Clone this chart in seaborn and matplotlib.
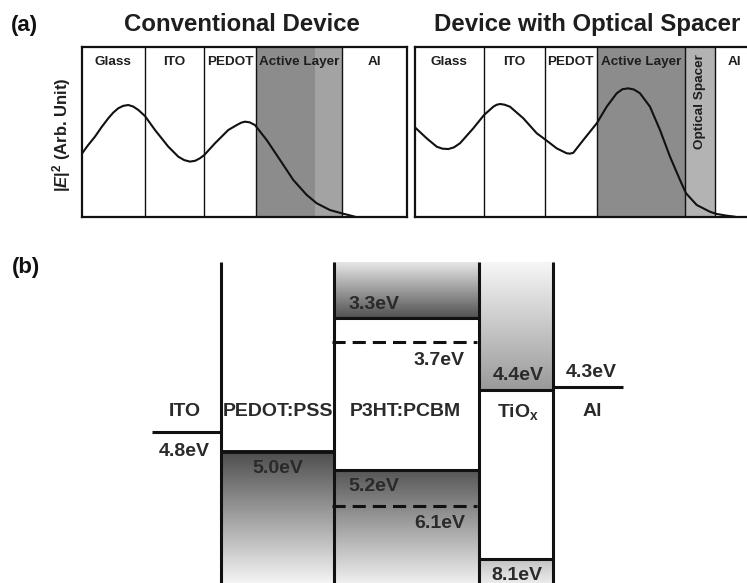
import numpy as np
import matplotlib
matplotlib.use("Agg")
import matplotlib.pyplot as plt
import seaborn as sns

# ---------------- panel (a): optical field in the two device stacks ----------------
# layer boundaries along the device (arbitrary position units)
conv_layers = ["Glass", "ITO", "PEDOT", "Active Layer", "Al"]
conv_edges = [0.0, 63.3, 122.6, 174.0, 260.6, 325.0]
conv_active_rear = 233.3          # start of the lighter rear part of the active layer

spacer_layers = ["Glass", "ITO", "PEDOT", "Active Layer", "Optical Spacer", "Al"]
spacer_edges = [0.0, 69.5, 130.5, 182.2, 270.5, 300.5, 338.5]

# |E|^2 profiles (arbitrary units)
conv_pos = [0.0, 6.0, 13.3, 20.0, 26.6, 31.5, 36.6, 41.5, 46.6, 51.5, 56.6, 63.3,
            73.3, 86.6, 96.6, 102.5, 108.3, 113.5, 118.3, 122.6, 133.3, 146.6,
            155.0, 159.5, 163.3, 168.0, 173.3, 185.0, 198.3, 211.6, 225.0, 235.0,
            248.3, 260.0, 273.3]
conv_field = [0.369, 0.418, 0.471, 0.528, 0.579, 0.612, 0.638, 0.652, 0.657, 0.648,
              0.628, 0.592, 0.510, 0.412, 0.353, 0.333, 0.324, 0.329, 0.344, 0.363,
              0.432, 0.510, 0.539, 0.553, 0.559, 0.555, 0.539, 0.451, 0.334, 0.216,
              0.128, 0.079, 0.039, 0.020, 0.000]

spacer_pos = [0.0, 12.2, 22.2, 28.0, 33.8, 39.5, 45.5, 58.8, 69.5, 78.8, 82.0, 85.5,
              90.0, 95.5, 108.8, 122.2, 130.5, 142.2, 152.2, 155.5, 158.8, 168.8,
              182.2, 192.2, 202.2, 208.0, 213.8, 219.5, 225.5, 235.5, 245.5, 255.5,
              265.5, 271.5, 282.2, 295.5, 302.2, 312.2, 320.5]
spacer_field = [0.528, 0.461, 0.412, 0.400, 0.398, 0.408, 0.432, 0.520, 0.598, 0.647,
                0.658, 0.663, 0.659, 0.647, 0.579, 0.491, 0.455, 0.402, 0.373, 0.371,
                0.376, 0.451, 0.549, 0.647, 0.726, 0.750, 0.755, 0.748, 0.726, 0.647,
                0.510, 0.353, 0.216, 0.138, 0.069, 0.029, 0.016, 0.006, 0.000]

# ---------------- panel (b): energy levels (eV) ----------------
ito_wf = 4.8
pedot_wf = 5.0
p3ht_lumo, p3ht_homo = 3.3, 5.2
pcbm_lumo, pcbm_homo = 3.7, 6.1
tiox_cb, tiox_vb = 4.4, 8.1
al_wf = 4.3
band_top, band_bottom = 2.5, 9.0

materials = ["ITO", "PEDOT:PSS", "P3HT:PCBM", r"TiO$_{\rm x}$", "Al"]

# ---------------- styling ----------------
sns.set_style("white")
plt.rcParams["font.family"] = ["Liberation Sans", "DejaVu Sans"]
plt.rcParams["mathtext.fontset"] = "custom"
plt.rcParams["mathtext.rm"] = "Liberation Sans:bold"
plt.rcParams["mathtext.it"] = "Liberation Sans:italic:bold"
plt.rcParams["mathtext.bf"] = "Liberation Sans:bold"

W, H = 747, 583
fig = plt.figure(figsize=(W / 100, H / 100), dpi=100)
fig.patch.set_facecolor("white")


def rect(x0, y0, x1, y1):
    return [x0 / W, 1 - y1 / H, (x1 - x0) / W, (y1 - y0) / H]


def ftext(px, py, s, **kw):
    fig.text(px / W, 1 - py / H, s, **kw)


TXT = "#1e1e1e"

# ---------------- panel (a) ----------------
def draw_stack(ax, edges, names, pos, field, shades, rotated=()):
    for (a, b, c) in shades:
        ax.axvspan(a, b, color=c, lw=0, zorder=0)
    for e in edges[1:-1]:
        ax.axvline(e, color="#111111", lw=1.0, zorder=1)
    sns.lineplot(x=pos, y=field, ax=ax, color="#111111", lw=1.5, zorder=3)
    for i, name in enumerate(names):
        mid = 0.5 * (edges[i] + edges[i + 1])
        if name in rotated:
            ax.text(mid, 0.68, name, rotation=90, ha="center", va="center",
                    fontsize=9.7, fontweight="bold", color=TXT)
        else:
            ax.text(mid, 0.912, name, ha="center", va="center",
                    fontsize=9.7, fontweight="bold", color=TXT)
    ax.set_xlim(edges[0], edges[-1])
    ax.set_ylim(0, 1)
    ax.set_xticks([])
    ax.set_yticks([])
    ax.set_xlabel("")
    ax.set_ylabel("")
    for sp in ax.spines.values():
        sp.set_visible(True)
        sp.set_linewidth(1.6)
        sp.set_color("#111111")


ax_conv = fig.add_axes(rect(81.7, 46.7, 406.7, 216.7))
draw_stack(ax_conv, conv_edges, conv_layers, conv_pos, conv_field,
           [(conv_edges[3], conv_active_rear, "#8c8c8c"),
            (conv_active_rear, conv_edges[4], "#a3a3a3")])

ax_sp = fig.add_axes(rect(414.5, 46.7, 753.0, 216.7))
draw_stack(ax_sp, spacer_edges, spacer_layers, spacer_pos, spacer_field,
           [(spacer_edges[3], spacer_edges[4], "#8c8c8c"),
            (spacer_edges[4], spacer_edges[5], "#b3b3b3")],
           rotated=("Optical Spacer",))

ftext(11, 25, "(a)", fontsize=16, fontweight="bold", ha="left", va="center", color="#111111")
ftext(242, 24.5, "Conventional Device", fontsize=17.3, fontweight="bold",
      ha="center", va="center", color=TXT)
ftext(587.5, 24.5, "Device with Optical Spacer", fontsize=17.3, fontweight="bold",
      ha="center", va="center", color=TXT)
ftext(62, 134.5, r"$|E|^{2}$ (Arb. Unit)", fontsize=12, fontweight="bold",
      rotation=90, ha="center", va="center", color=TXT)

# ---------------- panel (b) ----------------
ftext(12, 268, "(b)", fontsize=16, fontweight="bold", ha="left", va="center", color="#111111")

# schematic (non-linear) energy axis: eV -> drawing depth
EV_ANCHOR = np.array([0.0, 2.5, 3.3, 3.7, 4.3, 4.4, 4.8, 5.0, 5.2, 6.1, 8.1, 9.0, 20.0])
DEPTH_ANCHOR = np.array([152.0, 262.0, 317.7, 342.3, 386.7, 390.0, 432.3, 452.3,
                         470.0, 505.7, 559.0, 583.0, 847.0])


def fwd(e):
    return np.interp(e, EV_ANCHOR, DEPTH_ANCHOR)


def inv(d):
    return np.interp(d, DEPTH_ANCHOR, EV_ANCHOR)


ax_b = fig.add_axes(rect(0, 250, W, H))
ax_b.set_yscale("function", functions=(fwd, inv))
ax_b.set_xlim(0, W)
ax_b.set_ylim(float(inv(583.0)), float(inv(250.0)))
ax_b.axis("off")

# column extents
ITO_X = (152, 221)
PEDOT_X = (221, 334)
BLEND_X = (334, 479)
TIOX_X = (479, 553)
AL_X = (553, 623)


def gradient(x, e_top, e_bot, g_top, g_bot, n=80):
    d = np.linspace(fwd(e_top), fwd(e_bot), n + 1)
    ye = inv(d)
    vals = np.linspace(g_top, g_bot, n)[:, None]
    ax_b.pcolormesh(list(x), ye, vals, cmap="gray", vmin=0, vmax=1,
                    shading="flat", zorder=1, linewidth=0, antialiased=False)


gradient(PEDOT_X, pedot_wf, band_bottom, 0.31, 0.95)
gradient(BLEND_X, band_top, p3ht_lumo, 0.90, 0.32)
gradient(BLEND_X, p3ht_homo, band_bottom, 0.34, 0.93)
gradient(TIOX_X, band_top, tiox_cb, 0.96, 0.60)
gradient(TIOX_X, tiox_vb, band_bottom, 0.76, 0.92)

LW = 2.2
LC = "#111111"
ax_b.vlines([PEDOT_X[0], BLEND_X[0], TIOX_X[0], TIOX_X[1]], band_top, band_bottom,
            color=LC, lw=LW, zorder=4)
ax_b.hlines(ito_wf, *ITO_X, color=LC, lw=LW, zorder=4)
ax_b.hlines(pedot_wf, *PEDOT_X, color=LC, lw=LW + 0.6, zorder=4)
ax_b.hlines([p3ht_lumo, p3ht_homo], *BLEND_X, color=LC, lw=LW, zorder=4)
ax_b.hlines([pcbm_lumo, pcbm_homo], BLEND_X[0] - 2.5, BLEND_X[1] - 2, color=LC, lw=LW,
            linestyles=[(0, (4.3, 2.3))], zorder=4)
ax_b.hlines([tiox_cb, tiox_vb], *TIOX_X, color=LC, lw=LW, zorder=4)
ax_b.hlines(al_wf, *AL_X, color=LC, lw=LW, zorder=4)

BT = "#2a2a2a"
FS = 14


def level_label(x, ev, dy, ha="center"):
    ax_b.annotate(f"{ev:.1f}eV", xy=(x, ev), xytext=(0, dy), textcoords="offset pixels",
                  ha=ha, va="center", fontsize=FS, fontweight="bold", color=BT, zorder=5)


level_label(184.5, ito_wf, -19)
level_label(278, pedot_wf, -16)
level_label(349, p3ht_lumo, 13, ha="left")
level_label(465, pcbm_lumo, -18, ha="right")
level_label(348, p3ht_homo, -16.5, ha="left")
level_label(465, pcbm_homo, -18, ha="right")
level_label(518.5, tiox_cb, 15)
level_label(517, tiox_vb, -17)
level_label(591, al_wf, 14.5)

name_x = [184.5, 277.5, 405, 518, 592]
for nx, name in zip(name_x, materials):
    ftext(nx, 412, name, fontsize=FS, fontweight="bold", ha="center", va="center", color=BT)

fig.savefig("out.png", dpi=100, facecolor="white")
